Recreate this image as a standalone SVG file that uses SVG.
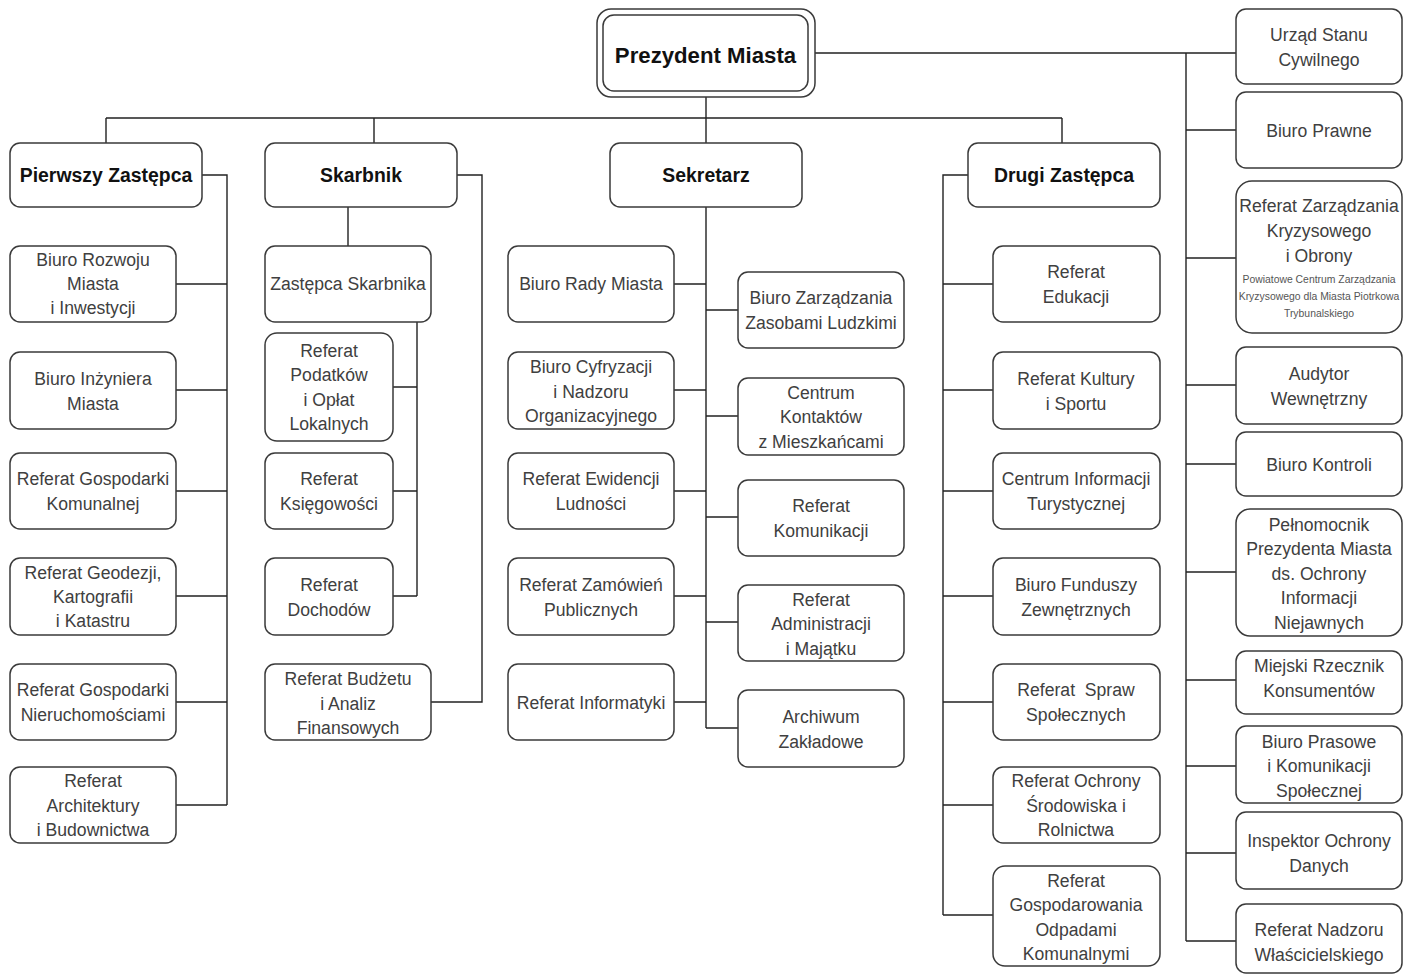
<svg xmlns="http://www.w3.org/2000/svg" width="1413" height="974" viewBox="0 0 1413 974">
<style>
.b{fill:#fff;stroke:#3a3a3a;stroke-width:1.5}
.t{font-family:"Liberation Sans",Arial,sans-serif;font-size:17.6px;fill:#404040;text-anchor:middle}
.h{font-family:"Liberation Sans",Arial,sans-serif;font-size:19.4px;font-weight:bold;fill:#111;text-anchor:middle}
.s{font-family:"Liberation Sans",Arial,sans-serif;font-size:10.4px;fill:#555;text-anchor:middle}
.c{fill:none;stroke:#222;stroke-width:1.4}
</style>
<rect width="1413" height="974" fill="#fff"/>
<g id="connectors" class="c">
<path d="M706 97V118M106 118H1062M106 118V143M374 118V143M706 118V143M1062 118V143"/>
<path d="M815 53H1236M1186 53V941M1186 130H1236M1186 258H1236M1186 385H1236M1186 464H1236M1186 572H1236M1186 680H1236M1186 766H1236M1186 853H1236M1186 941H1236"/>
<path d="M202 175H227V805M176 284H227M176 390H227M176 491H227M176 596H227M176 702H227M176 805H227"/>
<path d="M348 207V246M457 175H482V702H431M417 322V596M393 387H417M393 491H417M393 596H417"/>
<path d="M706 207V728M674 284H706M674 390H706M674 491H706M674 596H706M674 702H706M706 310H738M706 416H738M706 517H738M706 622H738M706 728H738"/>
<path d="M968 175H943V915M943 284H993M943 390H993M943 491H993M943 596H993M943 702H993M943 805H993M943 915H993"/>
</g>
<g id="prezydent">
<rect class="b" x="597" y="9" width="218" height="88" rx="14"/>
<rect class="b" x="603" y="15" width="205" height="76" rx="11"/>
<text class="h" x="705.5" y="62.5" style="font-size:22.2px">Prezydent Miasta</text>
</g>
<g id="pierwszy"><rect class="b" x="10" y="143" width="192" height="64" rx="10"/><text class="h" x="106" y="182">Pierwszy Zastępca</text></g>
<g id="skarbnik"><rect class="b" x="265" y="143" width="192" height="64" rx="10"/><text class="h" x="361" y="182">Skarbnik</text></g>
<g id="sekretarz"><rect class="b" x="610" y="143" width="192" height="64" rx="10"/><text class="h" x="706" y="182">Sekretarz</text></g>
<g id="drugi"><rect class="b" x="968" y="143" width="192" height="64" rx="10"/><text class="h" x="1064" y="182">Drugi Zastępca</text></g>

<g id="biuro-rozwoju"><rect class="b" x="10" y="246" width="166" height="76" rx="10"/><text class="t" x="93" y="266">Biuro Rozwoju</text><text class="t" x="93" y="290">Miasta</text><text class="t" x="93" y="314">i Inwestycji</text></g>
<g id="biuro-inzyniera"><rect class="b" x="10" y="352" width="166" height="77" rx="10"/><text class="t" x="93" y="385">Biuro Inżyniera</text><text class="t" x="93" y="410">Miasta</text></g>
<g id="ref-gosp-kom"><rect class="b" x="10" y="453" width="166" height="76" rx="10"/><text class="t" x="93" y="485">Referat Gospodarki</text><text class="t" x="93" y="510">Komunalnej</text></g>
<g id="ref-geodezji"><rect class="b" x="10" y="558" width="166" height="77" rx="10"/><text class="t" x="93" y="579">Referat Geodezji,</text><text class="t" x="93" y="603">Kartografii</text><text class="t" x="93" y="627">i Katastru</text></g>
<g id="ref-gosp-nier"><rect class="b" x="10" y="664" width="166" height="76" rx="10"/><text class="t" x="93" y="696">Referat Gospodarki</text><text class="t" x="93" y="721">Nieruchomościami</text></g>
<g id="ref-architektury"><rect class="b" x="10" y="767" width="166" height="76" rx="10"/><text class="t" x="93" y="787">Referat</text><text class="t" x="93" y="812">Architektury</text><text class="t" x="93" y="836">i Budownictwa</text></g>

<g id="zastepca-skarbnika"><rect class="b" x="265" y="246" width="166" height="76" rx="10"/><text class="t" x="348" y="290">Zastępca Skarbnika</text></g>
<g id="ref-podatkow"><rect class="b" x="265" y="333" width="128" height="108" rx="12"/><text class="t" x="329" y="357">Referat</text><text class="t" x="329" y="381">Podatków</text><text class="t" x="329" y="406">i Opłat</text><text class="t" x="329" y="430">Lokalnych</text></g>
<g id="ref-ksiegowosci"><rect class="b" x="265" y="453" width="128" height="76" rx="10"/><text class="t" x="329" y="485">Referat</text><text class="t" x="329" y="510">Księgowości</text></g>
<g id="ref-dochodow"><rect class="b" x="265" y="558" width="128" height="77" rx="10"/><text class="t" x="329" y="591">Referat</text><text class="t" x="329" y="616">Dochodów</text></g>
<g id="ref-budzetu"><rect class="b" x="265" y="664" width="166" height="76" rx="10"/><text class="t" x="348" y="685">Referat Budżetu</text><text class="t" x="348" y="710">i Analiz</text><text class="t" x="348" y="734">Finansowych</text></g>

<g id="biuro-rady"><rect class="b" x="508" y="246" width="166" height="76" rx="10"/><text class="t" x="591" y="290">Biuro Rady Miasta</text></g>
<g id="biuro-cyfryzacji"><rect class="b" x="508" y="352" width="166" height="77" rx="10"/><text class="t" x="591" y="373">Biuro Cyfryzacji</text><text class="t" x="591" y="398">i Nadzoru</text><text class="t" x="591" y="422">Organizacyjnego</text></g>
<g id="ref-ewidencji"><rect class="b" x="508" y="453" width="166" height="76" rx="10"/><text class="t" x="591" y="485">Referat Ewidencji</text><text class="t" x="591" y="510">Ludności</text></g>
<g id="ref-zamowien"><rect class="b" x="508" y="558" width="166" height="77" rx="10"/><text class="t" x="591" y="591">Referat Zamówień</text><text class="t" x="591" y="616">Publicznych</text></g>
<g id="ref-informatyki"><rect class="b" x="508" y="664" width="166" height="76" rx="10"/><text class="t" x="591" y="709">Referat Informatyki</text></g>
<g id="biuro-zasobami"><rect class="b" x="738" y="272" width="166" height="76" rx="10"/><text class="t" x="821" y="304">Biuro Zarządzania</text><text class="t" x="821" y="329">Zasobami Ludzkimi</text></g>
<g id="centrum-kontaktow"><rect class="b" x="738" y="378" width="166" height="77" rx="10"/><text class="t" x="821" y="399">Centrum</text><text class="t" x="821" y="423">Kontaktów</text><text class="t" x="821" y="448">z Mieszkańcami</text></g>
<g id="ref-komunikacji"><rect class="b" x="738" y="480" width="166" height="76" rx="10"/><text class="t" x="821" y="512">Referat</text><text class="t" x="821" y="537">Komunikacji</text></g>
<g id="ref-administracji"><rect class="b" x="738" y="585" width="166" height="76" rx="10"/><text class="t" x="821" y="606">Referat</text><text class="t" x="821" y="630">Administracji</text><text class="t" x="821" y="655">i Majątku</text></g>
<g id="archiwum"><rect class="b" x="738" y="690" width="166" height="77" rx="10"/><text class="t" x="821" y="723">Archiwum</text><text class="t" x="821" y="748">Zakładowe</text></g>

<g id="ref-edukacji"><rect class="b" x="993" y="246" width="167" height="76" rx="10"/><text class="t" x="1076" y="278">Referat</text><text class="t" x="1076" y="303">Edukacji</text></g>
<g id="ref-kultury"><rect class="b" x="993" y="352" width="167" height="77" rx="10"/><text class="t" x="1076" y="385">Referat Kultury</text><text class="t" x="1076" y="410">i Sportu</text></g>
<g id="centrum-informacji"><rect class="b" x="993" y="453" width="167" height="76" rx="10"/><text class="t" x="1076" y="485">Centrum Informacji</text><text class="t" x="1076" y="510">Turystycznej</text></g>
<g id="biuro-funduszy"><rect class="b" x="993" y="558" width="167" height="77" rx="10"/><text class="t" x="1076" y="591">Biuro Funduszy</text><text class="t" x="1076" y="616">Zewnętrznych</text></g>
<g id="ref-spraw"><rect class="b" x="993" y="664" width="167" height="76" rx="10"/><text class="t" x="1076" y="696" style="white-space:pre">Referat  Spraw</text><text class="t" x="1076" y="721">Społecznych</text></g>
<g id="ref-ochrony-srod"><rect class="b" x="993" y="767" width="167" height="76" rx="10"/><text class="t" x="1076" y="787">Referat Ochrony</text><text class="t" x="1076" y="812">Środowiska i</text><text class="t" x="1076" y="836">Rolnictwa</text></g>
<g id="ref-odpadami"><rect class="b" x="993" y="866" width="167" height="100" rx="12"/><text class="t" x="1076" y="887">Referat</text><text class="t" x="1076" y="911">Gospodarowania</text><text class="t" x="1076" y="936">Odpadami</text><text class="t" x="1076" y="960">Komunalnymi</text></g>

<g id="usc"><rect class="b" x="1236" y="9" width="166" height="75" rx="10"/><text class="t" x="1319" y="41">Urząd Stanu</text><text class="t" x="1319" y="66">Cywilnego</text></g>
<g id="biuro-prawne"><rect class="b" x="1236" y="92" width="166" height="76" rx="10"/><text class="t" x="1319" y="137">Biuro Prawne</text></g>
<g id="ref-kryzysowego"><rect class="b" x="1236" y="181" width="166" height="152" rx="16"/><text class="t" x="1319" y="212">Referat Zarządzania</text><text class="t" x="1319" y="237">Kryzysowego</text><text class="t" x="1319" y="262">i Obrony</text><text class="s" x="1319" y="283">Powiatowe Centrum Zarządzania</text><text class="s" x="1319" y="300">Kryzysowego dla Miasta Piotrkowa</text><text class="s" x="1319" y="317">Trybunalskiego</text></g>
<g id="audytor"><rect class="b" x="1236" y="347" width="166" height="77" rx="10"/><text class="t" x="1319" y="380">Audytor</text><text class="t" x="1319" y="405">Wewnętrzny</text></g>
<g id="biuro-kontroli"><rect class="b" x="1236" y="432" width="166" height="64" rx="10"/><text class="t" x="1319" y="471">Biuro Kontroli</text></g>
<g id="pelnomocnik"><rect class="b" x="1236" y="509" width="166" height="127" rx="14"/><text class="t" x="1319" y="531">Pełnomocnik</text><text class="t" x="1319" y="555">Prezydenta Miasta</text><text class="t" x="1319" y="580">ds. Ochrony</text><text class="t" x="1319" y="604">Informacji</text><text class="t" x="1319" y="629">Niejawnych</text></g>
<g id="rzecznik"><rect class="b" x="1236" y="651" width="166" height="63" rx="10"/><text class="t" x="1319" y="672">Miejski Rzecznik</text><text class="t" x="1319" y="697">Konsumentów</text></g>
<g id="biuro-prasowe"><rect class="b" x="1236" y="726" width="166" height="77" rx="10"/><text class="t" x="1319" y="748">Biuro Prasowe</text><text class="t" x="1319" y="772">i Komunikacji</text><text class="t" x="1319" y="797">Społecznej</text></g>
<g id="inspektor"><rect class="b" x="1236" y="812" width="166" height="77" rx="10"/><text class="t" x="1319" y="847">Inspektor Ochrony</text><text class="t" x="1319" y="872">Danych</text></g>
<g id="ref-nadzoru"><rect class="b" x="1236" y="904" width="166" height="69" rx="10"/><text class="t" x="1319" y="936">Referat Nadzoru</text><text class="t" x="1319" y="961">Właścicielskiego</text></g>
</svg>
